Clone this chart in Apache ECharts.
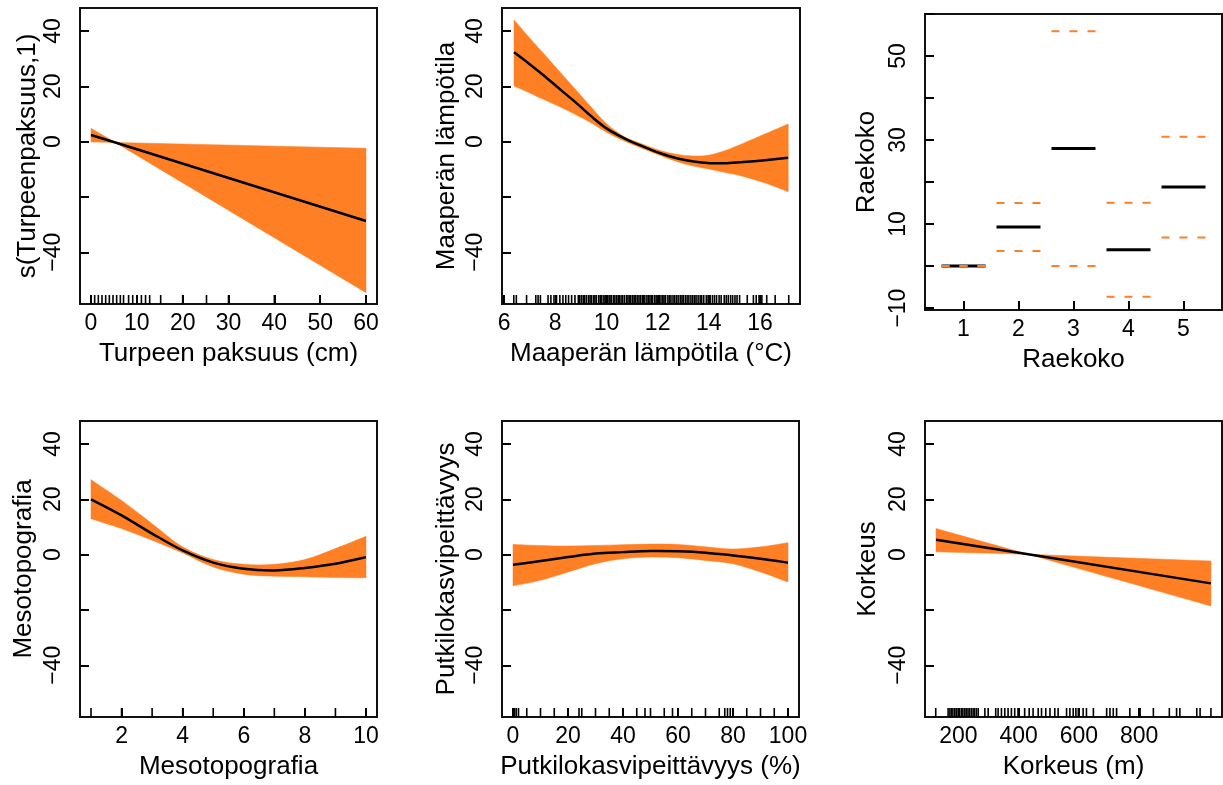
<!DOCTYPE html>
<html><head><meta charset="utf-8">
<script src="https://cdn.jsdelivr.net/npm/echarts@6/dist/echarts.min.js"></script>
<style>html,body{margin:0;padding:0;background:#fff}#c{width:1223px;height:785px}</style>
</head><body><div id="c"></div>
<script>
// ---------- Panel 1: Turpeen paksuus ----------
const turpX = [0, 5.3, 60];
const turpFit = [2.4, -0.3, -28.7];
const turpUpper = [4.8, -0.3, -2.4];
const turpLower = [-0.1, -0.3, -54.6];
const turpRug = [0, 0.8, 1.6, 2.4, 3.2, 4, 4.8, 5.6, 6.4, 7.1, 8.2, 9.1, 10, 11, 11.9, 12.8, 15.2, 20, 25.2, 30, 40, 50, 60];
const turpTicks = [0, 10, 20, 30, 40, 50, 60];

// ---------- Panel 2: Maaperän lämpötila ----------
const tempX = [6.39, 7.0, 7.53, 8.2, 8.83, 9.4, 10.0, 10.7, 11.44, 12.1, 12.74, 13.4, 14.04, 14.7, 15.35, 16.2, 17.1];
const tempFit = [32.3, 28.0, 24.1, 18.8, 13.9, 9.2, 4.8, 1.2, -1.8, -4.2, -6.0, -7.2, -7.8, -7.8, -7.4, -6.7, -5.8];
const tempUpper = [44.0, 37.5, 32.0, 25.0, 18.5, 12.5, 6.5, 1.8, -1.0, -3.2, -4.6, -5.2, -4.8, -3.0, -0.6, 2.8, 6.4];
const tempLower = [20.1, 17.6, 15.3, 12.5, 9.6, 6.8, 3.4, 0.2, -2.6, -5.0, -7.2, -8.8, -10.0, -11.3, -12.6, -15.0, -18.1];
const tempRug = [6.38, 6.48, 6.88, 7.24, 7.33, 7.42, 7.72, 7.83, 7.95, 8.05, 8.18, 8.3, 8.41, 8.52, 8.64, 8.77, 8.9,
  8.96, 9.03, 9.1, 9.15, 9.22, 9.3, 9.36, 9.42, 9.5, 9.55, 9.61, 9.7, 9.76, 9.82, 9.9, 9.95, 10.02, 10.1, 10.14, 10.2,
  10.28, 10.33, 10.4, 10.46, 10.5, 10.57, 10.63, 10.7, 10.78, 10.84, 10.9, 10.95, 11.02, 11.08, 11.13, 11.2, 11.27,
  11.33, 11.4, 11.44, 11.5, 11.58, 11.64, 11.7, 11.76, 11.8, 11.88, 11.94, 12.0, 12.06, 12.13, 12.2, 12.25, 12.31,
  12.4, 12.46, 12.52, 12.6, 12.66, 12.73, 12.8, 12.88, 12.95, 13.0, 13.08, 13.15, 13.22, 13.3, 13.37, 13.44, 13.5,
  13.58, 13.66, 13.72, 13.8, 13.9, 13.97, 14.05, 14.14, 14.22, 14.3, 14.4, 14.48, 14.6, 14.68, 14.76, 14.85, 14.93,
  15.02, 15.1, 15.2, 15.5, 15.74, 15.85, 15.96, 16.07, 16.26, 16.59, 17.12];
const tempTicks = [6, 8, 10, 12, 14, 16];

// ---------- Panel 3: Raekoko (factor) ----------
const raeLevels = [1, 2, 3, 4, 5];
const raeFit = [0, 9.3, 28.0, 3.9, 18.8];
const raeUpper = [0, 15.0, 55.9, 15.1, 30.8];
const raeLower = [0, 3.6, 0, -7.3, 6.8];
const raeYTicks = [-10, 0, 10, 20, 30, 40, 50, 60];
const raeYLabels = [-10, 10, 30, 50];

// ---------- Panel 4: Mesotopografia ----------
const mesoX = [1, 2, 3, 4, 5, 6, 7, 8, 9, 10];
const mesoFit = [20.0, 14.2, 7.6, 1.5, -2.9, -5.1, -5.7, -4.8, -3.3, -0.9];
const mesoUpper = [27.1, 19.6, 11.2, 2.8, -1.8, -3.5, -3.5, -1.8, 2.2, 6.6];
const mesoLower = [13.0, 9.4, 5.2, 0.6, -4.5, -7.1, -7.8, -8.0, -8.3, -8.4];
const mesoRug = [1, 2, 3, 4, 5, 6, 7, 8, 9, 10];
const mesoTicks = [2, 4, 6, 8, 10];

// ---------- Panel 5: Putkilokasvipeittävyys ----------
const putkiX = [0, 10, 20, 30, 40, 50, 60, 70, 80, 90, 100];
const putkiFit = [-3.7, -2.3, -0.9, 0.4, 0.9, 1.3, 1.2, 0.7, -0.3, -1.5, -2.9];
const putkiUpper = [3.7, 3.3, 3.1, 3.3, 3.6, 3.8, 3.7, 2.8, 2.0, 2.8, 4.3];
const putkiLower = [-11.3, -9.3, -6.3, -3.3, -1.5, -0.9, -1.1, -2.1, -3.3, -6.3, -9.9];
const putkiRug = [0, 0.6, 1.2, 2, 5, 10, 15, 20, 24, 25, 30, 35, 40, 45, 48, 50, 55, 58, 60, 65, 70, 75, 77, 78, 79, 80, 85, 90, 95, 100];
const putkiTicks = [0, 20, 40, 60, 80, 100];

// ---------- Panel 6: Korkeus ----------
const korkX = [126, 432, 1038];
const korkFit = [5.4, 0.1, -10.4];
const korkUpper = [9.4, 0.1, -2.3];
const korkLower = [1.0, 0.1, -18.6];
const korkRug = [125, 166, 172, 177, 182, 188, 193, 199, 204, 210, 215, 221, 226, 232, 237, 243, 249, 254, 260, 266,
  288, 299, 324, 332, 343, 354, 365, 376, 387, 398, 420, 435, 448, 465, 476, 490, 504, 520, 531, 559, 570, 581, 590,
  598, 614, 625, 648, 692, 703, 714, 725, 769, 803, 847, 900, 924, 935, 991, 1002, 1038];
const korkTicks = [200, 400, 600, 800];

const smYTicks = [-40, -20, 0, 20, 40];
const smYLabels = [-40, 0, 20, 40];

// ---------- rendering ----------
const ORANGE = '#FF7F24';
const FONT = "'Liberation Sans', Arial, Helvetica, sans-serif";
const TICK_LEN = 9;
const fmt = v => (v < 0 ? '\u2212' + Math.abs(v) : String(v));

// smooth (Catmull-Rom) path through pixel points; straight if smooth is false
function chainPath(P, smooth, start) {
  let d = (start ? 'M' : 'L') + P[0][0] + ' ' + P[0][1];
  for (let i = 0; i < P.length - 1; i++) {
    const p1 = P[i], p2 = P[i + 1];
    if (!smooth) { d += ' L' + p2[0] + ' ' + p2[1]; continue; }
    const p0 = P[i - 1] || p1, p3 = P[i + 2] || p2;
    const c1 = [p1[0] + (p2[0] - p0[0]) / 6, p1[1] + (p2[1] - p0[1]) / 6];
    const c2 = [p2[0] - (p3[0] - p1[0]) / 6, p2[1] - (p3[1] - p1[1]) / 6];
    d += ' C' + c1[0] + ' ' + c1[1] + ' ' + c2[0] + ' ' + c2[1] + ' ' + p2[0] + ' ' + p2[1];
  }
  return d;
}

const panels = [
  {grid:{left:80, top:8, width:297, height:296}, xMin:-2.4, xMax:62.4, yMin:-58.7, yMax:48.3,
   xTicks:turpTicks, xLabels:turpTicks, yTicks:smYTicks, yLabels:smYLabels,
   xName:'Turpeen paksuus (cm)', yName:'s(Turpeenpaksuus,1)', yGap:38,
   x:turpX, fit:turpFit, upper:turpUpper, lower:turpLower, rug:turpRug, smooth:false},
  {grid:{left:502, top:8, width:298, height:296}, xMin:5.92, xMax:17.56, yMin:-58.7, yMax:48.3,
   xTicks:tempTicks, xLabels:tempTicks, yTicks:smYTicks, yLabels:smYLabels,
   xName:'Maaperän lämpötila (°C)', yName:'Maaperän lämpötila', yGap:42,
   x:tempX, fit:tempFit, upper:tempUpper, lower:tempLower, rug:tempRug, smooth:true},
  {grid:{left:925, top:14, width:297, height:296}, xMin:0.3, xMax:5.7, yMin:-10.45, yMax:60,
   xTicks:raeLevels, xLabels:raeLevels, yTicks:raeYTicks, yLabels:raeYLabels,
   xName:'Raekoko', yName:'Raekoko', yGap:45, factor:true},
  {grid:{left:80, top:421, width:297, height:296}, xMin:0.64, xMax:10.36, yMin:-58.7, yMax:48.3,
   xTicks:mesoTicks, xLabels:mesoTicks, yTicks:smYTicks, yLabels:smYLabels,
   xName:'Mesotopografia', yName:'Mesotopografia', yGap:43,
   x:mesoX, fit:mesoFit, upper:mesoUpper, lower:mesoLower, rug:mesoRug, smooth:true},
  {grid:{left:502, top:421, width:297, height:296}, xMin:-4, xMax:104, yMin:-58.7, yMax:48.3,
   xTicks:putkiTicks, xLabels:putkiTicks, yTicks:smYTicks, yLabels:smYLabels,
   xName:'Putkilokasvipeittävyys (%)', yName:'Putkilokasvipeittävyys', yGap:42,
   x:putkiX, fit:putkiFit, upper:putkiUpper, lower:putkiLower, rug:putkiRug, smooth:true},
  {grid:{left:925, top:421, width:297, height:296}, xMin:89.4, xMax:1074.7, yMin:-58.7, yMax:48.3,
   xTicks:korkTicks, xLabels:korkTicks, yTicks:smYTicks, yLabels:smYLabels,
   xName:'Korkeus (m)', yName:'Korkeus', yGap:44,
   x:korkX, fit:korkFit, upper:korkUpper, lower:korkLower, rug:korkRug, smooth:false}
];

const grid = [], xAxis = [], yAxis = [], series = [];
panels.forEach((p, i) => {
  grid.push(Object.assign({show:true, borderColor:'#111', borderWidth:2, backgroundColor:'transparent', containLabel:false}, p.grid));
  xAxis.push({
    type:'value', gridIndex:i, min:p.xMin, max:p.xMax, z:10,
    name:p.xName, nameLocation:'middle', nameGap:37,
    nameTextStyle:{fontSize:26, color:'#000', fontFamily:FONT},
    axisLine:{show:false, onZero:false}, splitLine:{show:false},
    axisTick:{show:true, inside:true, length:TICK_LEN, lineStyle:{color:'#000', width:2}, customValues:p.xTicks},
    axisLabel:{show:true, customValues:p.xLabels, fontSize:23, color:'#000', fontFamily:FONT, margin:8, formatter:fmt}
  });
  yAxis.push({
    type:'value', gridIndex:i, min:p.yMin, max:p.yMax, z:10,
    name:p.yName, nameLocation:'middle', nameGap:p.yGap, nameRotate:90,
    nameTextStyle:{fontSize:26, color:'#000', fontFamily:FONT},
    axisLine:{show:false, onZero:false}, splitLine:{show:false},
    axisTick:{show:true, inside:true, length:TICK_LEN, lineStyle:{color:'#000', width:2}, customValues:p.yTicks},
    axisLabel:{show:true, customValues:p.yLabels, rotate:90, fontSize:23, color:'#000', fontFamily:FONT, margin:15, formatter:fmt}
  });

  if (p.factor) {
    const segs = (vals, color, width, dash, z) => ({
      type:'custom', xAxisIndex:i, yAxisIndex:i, z:z, silent:true,
      data: raeLevels.map((l, k) => [l, vals[k]]),
      renderItem: (params, api) => {
        const l = api.value(0), v = api.value(1);
        const a = api.coord([l - 0.4, v]), b = api.coord([l + 0.4, v]);
        return {type:'line', shape:{x1:a[0], y1:a[1], x2:b[0], y2:b[1]},
          style:{stroke:color, lineWidth:width, lineDash:dash, lineCap:'butt'}};
      }
    });
    series.push(segs(raeFit, '#000', 3, null, 3));
    series.push(segs(raeUpper, ORANGE, 2, [8, 10], 4));
    series.push(segs(raeLower, ORANGE, 2, [8, 10], 4));
    return;
  }

  // confidence band
  series.push({
    type:'custom', xAxisIndex:i, yAxisIndex:i, z:1, silent:true,
    data: p.x.map((x, k) => [x, p.upper[k], p.lower[k]]),
    renderItem: (params, api) => {
      if (params.dataIndex !== 0) return null;
      const up = p.x.map((x, k) => api.coord([x, p.upper[k]]));
      const lo = p.x.map((x, k) => api.coord([x, p.lower[k]])).reverse();
      const d = chainPath(up, p.smooth, true) + ' ' + chainPath(lo, p.smooth, false) + ' Z';
      return {type:'path', shape:{pathData:d}, style:{fill:ORANGE, stroke:ORANGE, lineWidth:0.5}};
    }
  });
  // fitted smooth
  series.push({
    type:'custom', xAxisIndex:i, yAxisIndex:i, z:3, silent:true,
    data: p.x.map((x, k) => [x, p.fit[k]]),
    renderItem: (params, api) => {
      if (params.dataIndex !== 0) return null;
      const pts = p.x.map((x, k) => api.coord([x, p.fit[k]]));
      return {type:'path', shape:{pathData:chainPath(pts, p.smooth, true)},
        style:{fill:null, stroke:'#000', lineWidth:2.5, lineJoin:'round'}};
    }
  });
  // rug
  series.push({
    type:'custom', xAxisIndex:i, yAxisIndex:i, z:3, silent:true,
    data: p.rug.map(v => [v, p.yMin]),
    renderItem: (params, api) => {
      const c = api.coord([api.value(0), api.value(1)]);
      return {type:'line', shape:{x1:c[0], y1:c[1], x2:c[0], y2:c[1] - TICK_LEN},
        style:{stroke:'#000', lineWidth:1.6}};
    }
  });
});

const chart = echarts.init(document.getElementById('c'), null, {renderer:'canvas'});
chart.setOption({animation:false, backgroundColor:'#fff', textStyle:{fontFamily:FONT}, grid, xAxis, yAxis, series});
</script>
</body></html>
